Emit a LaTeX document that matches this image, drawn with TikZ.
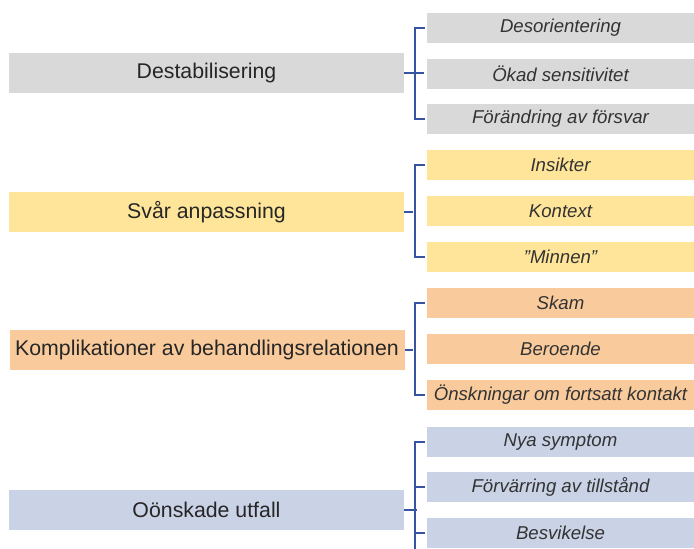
\documentclass[tikz,border=0pt]{standalone}
\usepackage{fontspec}
\setmainfont{Liberation Sans}
\definecolor{cgray}{HTML}{D9D9D9}
\definecolor{cyellow}{HTML}{FFE599}
\definecolor{corange}{HTML}{F9CB9C}
\definecolor{cblue}{HTML}{CAD2E6}
\definecolor{cline}{HTML}{3555A2}
\definecolor{ctextL}{HTML}{262626}
\definecolor{ctextR}{HTML}{333333}
\tikzset{
  mainbox/.style={fill=#1, draw=none, minimum width=395pt, minimum height=40pt, inner sep=0pt,
    text=ctextL, font=\fontsize{21.3}{25}\selectfont},
  subbox/.style={fill=#1, draw=none, minimum width=267pt, minimum height=30pt, inner sep=0pt,
    text=ctextR, font=\fontsize{18.6}{22}\selectfont\itshape},
  brk/.style={draw=cline, line width=2pt},
}
\begin{document}
\begin{tikzpicture}[x=1pt,y=-1pt]
\useasboundingbox (0,0) rectangle (694,549);
% group 1
\node[mainbox=cgray] (L1) at (206.5,73) {Destabilisering};
\node[subbox=cgray] (a1) at (560.5,28) {Desorientering};
\node[subbox=cgray] (a2) at (560.5,74) {Ökad sensitivitet};
\node[subbox=cgray] (a3) at (560.5,119) {Förändring av försvar};
% group 2
\node[mainbox=cyellow] (L2) at (206.5,212) {Svår anpassning};
\node[subbox=cyellow] (b1) at (560.5,165) {Insikter};
\node[subbox=cyellow] (b2) at (560.5,211) {Kontext};
\node[subbox=cyellow] (b3) at (560.5,257) {\char"22 Minnen\char"22};
% group 3
\node[mainbox=corange] (L3) at (207,350) {Komplikationer av behandlingsrelationen};
\node[subbox=corange] (c1) at (560.5,303) {Skam};
\node[subbox=corange] (c2) at (560.5,349) {Beroende};
\node[subbox=corange] (c3) at (560.5,395) {Önskningar om fortsatt kontakt};
% group 4
\node[mainbox=cblue] (L4) at (206.5,510) {Oönskade utfall};
\node[subbox=cblue] (d1) at (560.5,442) {Nya symptom};
\node[subbox=cblue] (d2) at (560.5,487) {Förvärring av tillstånd};
\node[subbox=cblue] (d3) at (560.5,533) {Besvikelse};
% brackets
\coordinate (vx) at (415,0);
\coordinate (bot) at (415,549);
\draw[brk] ([xshift=-2pt]a1.west) -| (vx |- a3.west) -- ([xshift=-2pt]a3.west);
\draw[brk] (L1.east) -- ([xshift=-3pt]a2.west |- L1.east);
\draw[brk] ([xshift=-2pt]b1.west) -| (vx |- b3.west) -- ([xshift=-2pt]b3.west);
\draw[brk] (L2.east) -- ([xshift=-14pt]b2.west |- L2.east);
\draw[brk] ([xshift=-2pt]c1.west) -| (vx |- c3.west) -- ([xshift=-2pt]c3.west);
\draw[brk] (L3.east) -- ([xshift=-14pt]c2.west |- L3.east);
\draw[brk] ([xshift=-2pt]d1.west) -| (bot);
\draw[brk] (vx |- d2.west) -- ([xshift=-2pt]d2.west);
\draw[brk] (vx |- d3.west) -- ([xshift=-2pt]d3.west);
\draw[brk] (L4.east) -- ([xshift=-10pt]d2.west |- L4.east);
\end{tikzpicture}
\end{document}
